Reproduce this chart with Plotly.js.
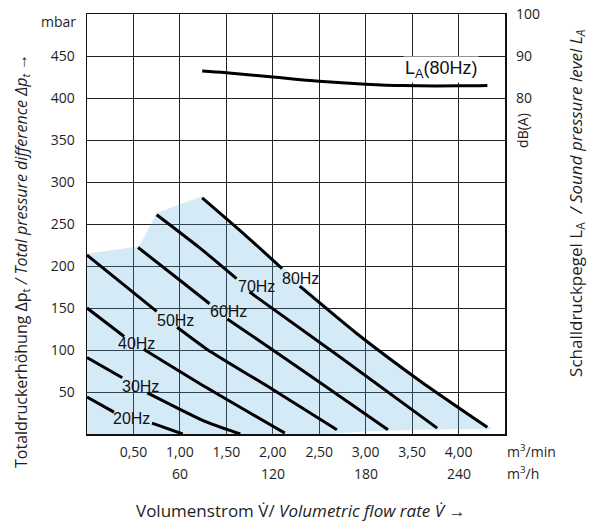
<!DOCTYPE html>
<html><head><meta charset="utf-8">
<script src="https://cdn.plot.ly/plotly-3.0.1.min.js"></script>
<style>html,body{margin:0;padding:0;background:#fff}</style>
</head><body><div id="chart" style="width:600px;height:527px"></div>
<script>
// ---- data ----
const xTickVals = [0.5, 1, 1.5, 2, 2.5, 3, 3.5, 4];
const xTickText = ['0,50', '1,00', '1,50', '2,00', '2,50', '3,00', '3,50', '4,00'];
const hourTickVals = [1, 2, 3, 4];
const hourTickText = ['60', '120', '180', '240'];
const yTickVals = [50, 100, 150, 200, 250, 300, 350, 400, 450];
const yTickText = ['50', '100', '150', '200', '250', '300', '350', '400', '450'];
const y2TickVals = [80, 90, 100];
const y2TickText = ['80', '90', '100'];

// operating area (shaded)
const areaX = [0, 0.54, 0.57, 0.75, 1.24, 2.10, 2.9, 3.6, 4.36, 3.6, 3.0, 2.6, 0];
const areaY = [215, 223, 225, 263, 283, 199, 122, 64, 6, 5, 3, 0, 0];

// characteristic curves, m3/min vs mbar (null = gap under the label)
const f20x = [0, 0.29, null, 0.70, 1.03];
const f20y = [44, 26, null, 13, 0];
const f30x = [0, 0.38, null, 0.65, 1.29, 1.65];
const f30y = [91, 67, null, 49, 14, 0];
const f40x = [0, 0.40, null, 0.61, 1.29, 2.13];
const f40y = [150, 116, null, 101, 55, 1];
const f50x = [0, 0.75, null, 0.97, 1.29, 2.0, 2.69];
const f50y = [213, 146, null, 127, 101, 53, 5];
const f60x = [0.55, 1.0, 1.32, null, 1.51, 2.0, 2.5, 3.24];
const f60y = [222, 183, 155, null, 137, 100, 62, 5];
const f70x = [0.75, 1.22, 1.61, null, 1.75, 2.72, 3.77];
const f70y = [261, 221, 185, null, 169, 92, 7];
const f80x = [1.24, 1.7, 2.10, null, 2.29, 2.9, 3.6, 4.31];
const f80y = [281, 237, 197, null, 176, 120, 62, 8];

// sound pressure level at 80 Hz, dB(A)
const laX = [1.24, 1.5, 2.0, 2.5, 3.0, 3.4, 4.0, 4.31];
const laY = [86.4, 86.0, 85.0, 84.0, 83.3, 82.95, 82.9, 83.0];

const curveLabels = ['20Hz', '30Hz', '40Hz', '50Hz', '60Hz', '70Hz', '80Hz'];
const curveLabelX = [0.48, 0.58, 0.53, 0.95, 1.52, 1.83, 2.30];
const curveLabelY = [18, 56, 108, 135, 146, 176, 185];

// ---- drawing ----
const TXT = '#1e1e1e';
const FONT = 'Open Sans, Noto Sans, sans-serif';
const LBLFONT = 'Liberation Sans, Arial, sans-serif';

const curves = [[f20x, f20y], [f30x, f30y], [f40x, f40y], [f50x, f50y], [f60x, f60y], [f70x, f70y], [f80x, f80y]];

const traces = [{
  x: areaX, y: areaY, type: 'scatter', mode: 'lines', fill: 'toself',
  fillcolor: 'rgba(87,171,223,0.25)', line: {width: 0}, hoverinfo: 'skip', showlegend: false
}];
curves.forEach(c => traces.push({
  x: c[0], y: c[1], type: 'scatter', mode: 'lines', connectgaps: false,
  line: {color: '#000', width: 3, shape: 'spline', smoothing: 0.6}, hoverinfo: 'skip', showlegend: false
}));
traces.push({
  x: laX, y: laY, yaxis: 'y2', type: 'scatter', mode: 'lines', line: {color: '#000', width: 3, shape: 'spline'},
  hoverinfo: 'skip', showlegend: false
});

const annotations = [];
curveLabels.forEach((t, i) => annotations.push({
  x: curveLabelX[i], y: curveLabelY[i], xref: 'x', yref: 'y', text: t, showarrow: false,
  font: {family: LBLFONT, size: 16, color: '#111'}, xanchor: 'center', yanchor: 'middle'
}));
hourTickVals.forEach((v, i) => annotations.push({
  x: v, y: -0.093, xref: 'x', yref: 'paper', text: hourTickText[i], showarrow: false,
  font: {family: FONT, size: 14, color: TXT}, xanchor: 'center', yanchor: 'middle'
}));
annotations.push(
  {x: 1, y: -0.04, xref: 'paper', yref: 'paper', text: 'm<sup>3</sup>/min', showarrow: false,
   font: {family: FONT, size: 14, color: TXT}, xanchor: 'left', yanchor: 'middle'},
  {x: 1, y: -0.093, xref: 'paper', yref: 'paper', text: 'm<sup>3</sup>/h', showarrow: false,
   font: {family: FONT, size: 14, color: TXT}, xanchor: 'left', yanchor: 'middle'},
  {x: -0.069, y: 0.981, xref: 'paper', yref: 'paper', text: 'mbar', showarrow: false,
   font: {family: FONT, size: 14, color: TXT}, xanchor: 'center', yanchor: 'middle'},
  {x: 1.043, y: 0.724, xref: 'paper', yref: 'paper', text: 'dB(A)', textangle: -90, showarrow: false,
   font: {family: FONT, size: 14, color: TXT}, xanchor: 'center', yanchor: 'middle'},
  {x: 3.81, y: 86.8, xref: 'x', yref: 'y2', text: 'L<sub>A</sub>(80Hz)', showarrow: false,
   font: {family: LBLFONT, size: 18, color: '#111'}, bgcolor: '#fff', borderpad: 1,
   xanchor: 'center', yanchor: 'middle'},
  {x: 0.5096, y: -0.181, xref: 'paper', yref: 'paper',
   text: 'Volumenstrom V\u0307/ <i>Volumetric flow rate V\u0307</i> \u2192', showarrow: false,
   font: {family: FONT, size: 17, color: TXT}, xanchor: 'center', yanchor: 'middle'},
  {x: -0.1555, y: 0.412, xref: 'paper', yref: 'paper', textangle: -90,
   text: 'Totaldruckerhöhung \u0394p<sub>t</sub> <i>/ Total pressure difference \u0394p<sub>t</sub></i> \u2192', showarrow: false,
   font: {family: FONT, size: 16, color: TXT}, xanchor: 'center', yanchor: 'middle'},
  {x: 1.172, y: 0.55, xref: 'paper', yref: 'paper', textangle: -90,
   text: 'Schalldruckpegel L<sub>A</sub>  <i>/ Sound pressure level L<sub>A</sub></i>', showarrow: false,
   font: {family: FONT, size: 17, color: TXT}, xanchor: 'center', yanchor: 'middle'}
);

const layout = {
  width: 600, height: 527,
  margin: {l: 87, r: 95, t: 14, b: 93, pad: 0},
  paper_bgcolor: '#fff', plot_bgcolor: '#fff',
  showlegend: false,
  xaxis: {
    range: [0, 4.5], tickmode: 'array', tickvals: xTickVals, ticktext: xTickText,
    showgrid: true, gridcolor: '#222', gridwidth: 1, zeroline: false,
    showline: true, linecolor: '#111', linewidth: 1.5, mirror: true, ticks: '',
    ticklabelstandoff: 5,
    tickfont: {family: FONT, size: 14, color: TXT}, fixedrange: true
  },
  yaxis: {
    range: [0, 500], tickmode: 'array', tickvals: yTickVals, ticktext: yTickText,
    showgrid: true, gridcolor: '#222', gridwidth: 1, zeroline: false,
    showline: true, linecolor: '#111', linewidth: 1.5, mirror: true, ticks: '',
    ticklabelstandoff: 8,
    tickfont: {family: FONT, size: 14, color: TXT}, fixedrange: true
  },
  yaxis2: {
    range: [0, 100], overlaying: 'y', side: 'right', tickmode: 'array',
    tickvals: y2TickVals, ticktext: y2TickText, showgrid: false, zeroline: false,
    showline: false, ticks: '', ticklabelstandoff: 10,
    tickfont: {family: FONT, size: 14, color: TXT}, fixedrange: true
  },
  annotations: annotations
};

Plotly.newPlot('chart', traces, layout, {displayModeBar: false, staticPlot: true});
</script>
</body></html>
